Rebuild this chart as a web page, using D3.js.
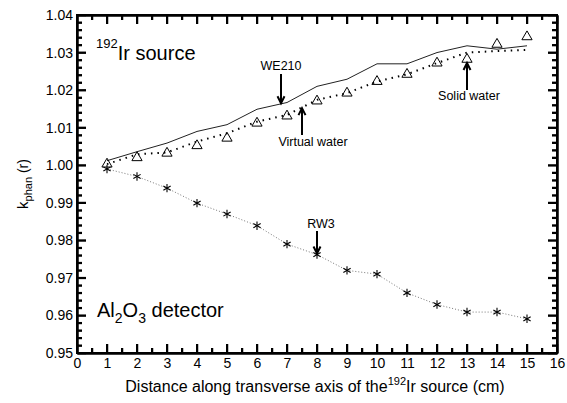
<!DOCTYPE html>
<html><head><meta charset="utf-8">
<script src="https://cdn.jsdelivr.net/npm/d3@7"></script>
</head><body style="margin:0;background:#fff"><svg id="c" width="567" height="403" style="font-family:'Liberation Sans',Arial,sans-serif"></svg>
<script>
const distances = [1,2,3,4,5,6,7,8,9,10,11,12,13,14,15];
const we210 = [1.0012,1.0036,1.0059,1.0090,1.0108,1.0149,1.0167,1.0210,1.0229,1.0270,1.0270,1.0300,1.0318,1.0309,1.0318];
const virtualWater = [1.0003,1.0029,1.0034,1.0063,1.0085,1.0116,1.0134,1.0174,1.0192,1.0223,1.0242,1.0272,1.0300,1.0304,1.0307];
const solidWater = [1.0003,1.0020,1.0032,1.0052,1.0072,1.0112,1.0131,1.0171,1.0192,1.0223,1.0242,1.0272,1.0282,1.0322,1.0342];
const rw3 = [0.9990,0.9970,0.9939,0.9899,0.9870,0.9839,0.9790,0.9762,0.9720,0.9710,0.9660,0.9629,0.9609,0.9609,0.9591];
const xTicks = d3.range(0,17,1);
const yTicks = [0.95,0.96,0.97,0.98,0.99,1.00,1.01,1.02,1.03,1.04];
const xMinor = d3.range(0.5,16,1);
const yMinor = d3.range(0,46,1).filter(k=>k%5!==0).map(k=>0.95+k*0.002);

const svg = d3.select("#c");
const L=77,R=557,T=15,B=353;
const x = d3.scaleLinear().domain([0,16]).range([L,R]);
const y = d3.scaleLinear().domain([0.95,1.04]).range([B,T]);

// frame
svg.append("rect").attr("x",L).attr("y",T).attr("width",R-L).attr("height",B-T).attr("fill","none").attr("stroke","#000").attr("stroke-width",2);

// inward ticks
const tickData = [];
xTicks.forEach(v=>{ tickData.push({x:x(v)-1,y:B-9,w:2,h:9},{x:x(v)-1,y:T,w:2,h:9}); });
xMinor.forEach(v=>{ tickData.push({x:x(v)-1,y:B-5,w:2,h:5},{x:x(v)-1,y:T,w:2,h:5}); });
yTicks.forEach(v=>{ tickData.push({x:L,y:y(v)-1,w:9,h:2},{x:R-9,y:y(v)-1,w:9,h:2}); });
yMinor.forEach(v=>{ tickData.push({x:L,y:y(v)-1,w:5,h:2},{x:R-5,y:y(v)-1,w:5,h:2}); });
svg.append("g").selectAll("rect").data(tickData).join("rect")
  .attr("x",d=>d.x).attr("y",d=>d.y).attr("width",d=>d.w).attr("height",d=>d.h).attr("fill","#000");

// axes with inward tick lines and labels
function styleAxis(g){
  g.select(".domain").attr("stroke","#000").attr("stroke-width",2);
  g.selectAll(".tick line").attr("stroke","#000").attr("stroke-width",1.5);
  g.selectAll("text").attr("font-size",14).attr("font-family","Liberation Sans, Arial").attr("fill","#000");
}
const none = ()=>"";
svg.append("g").attr("transform",`translate(0,${B})`)
  .call(d3.axisBottom(x).tickValues(xTicks).tickSizeInner(-9).tickSizeOuter(0).tickPadding(5).tickFormat(d3.format("d"))).call(styleAxis);
svg.append("g").attr("transform",`translate(0,${B})`)
  .call(d3.axisBottom(x).tickValues(xMinor).tickSizeInner(-5).tickSizeOuter(0).tickFormat(none)).call(styleAxis);
svg.append("g").attr("transform",`translate(0,${T})`)
  .call(d3.axisTop(x).tickValues(xTicks).tickSizeInner(-9).tickSizeOuter(0).tickFormat(none)).call(styleAxis);
svg.append("g").attr("transform",`translate(0,${T})`)
  .call(d3.axisTop(x).tickValues(xMinor).tickSizeInner(-5).tickSizeOuter(0).tickFormat(none)).call(styleAxis);
svg.append("g").attr("transform",`translate(${L},0)`)
  .call(d3.axisLeft(y).tickValues(yTicks).tickSizeInner(-9).tickSizeOuter(0).tickPadding(4).tickFormat(d3.format(".2f"))).call(styleAxis);
svg.append("g").attr("transform",`translate(${L},0)`)
  .call(d3.axisLeft(y).tickValues(yMinor).tickSizeInner(-5).tickSizeOuter(0).tickFormat(none)).call(styleAxis);
svg.append("g").attr("transform",`translate(${R},0)`)
  .call(d3.axisRight(y).tickValues(yTicks).tickSizeInner(-9).tickSizeOuter(0).tickFormat(none)).call(styleAxis);
svg.append("g").attr("transform",`translate(${R},0)`)
  .call(d3.axisRight(y).tickValues(yMinor).tickSizeInner(-5).tickSizeOuter(0).tickFormat(none)).call(styleAxis);

// series
const line = d3.line().x((d,i)=>x(distances[i])).y(d=>y(d));
svg.append("path").attr("d",line(we210)).attr("fill","none").attr("stroke","#222").attr("stroke-width",1);
svg.append("path").attr("d",line(virtualWater)).attr("fill","none").attr("stroke","#000").attr("stroke-width",2).attr("stroke-dasharray","1.5,5");
svg.append("path").attr("d",line(rw3)).attr("fill","none").attr("stroke","#777").attr("stroke-width",1).attr("stroke-dasharray","1,2");

// triangles
const tri = d3.symbol().type(d3.symbolTriangle).size(45);
svg.append("g").selectAll("path").data(solidWater).join("path")
  .attr("d",tri).attr("transform",(d,i)=>`translate(${x(distances[i])},${y(d)})`)
  .attr("fill","none").attr("stroke","#000").attr("stroke-width",1);
// asterisks
const gs = svg.append("g").selectAll("g").data(rw3).join("g")
  .attr("transform",(d,i)=>`translate(${x(distances[i])},${y(d)})`);
[90,30,-30].forEach(a=>{
  const r=4.2, c=Math.cos(a*Math.PI/180)*r, s=Math.sin(a*Math.PI/180)*r;
  gs.append("line").attr("x1",-c).attr("y1",-s).attr("x2",c).attr("y2",s).attr("stroke","#000").attr("stroke-width",1.1);
});

// axis titles
const xt = svg.append("text").attr("x",(L+R)/2-2).attr("y",392).attr("text-anchor","middle").attr("font-size",16);
xt.append("tspan").text("Distance along transverse axis of the");
xt.append("tspan").attr("dy",-7).attr("font-size",11).text("192");
xt.append("tspan").attr("dy",7).text("Ir source (cm)");
const yt = svg.append("text").attr("transform","translate(28,184) rotate(-90)").attr("text-anchor","middle").attr("font-size",15);
yt.append("tspan").text("k");
yt.append("tspan").attr("dy",4).attr("font-size",11).text("phan");
yt.append("tspan").attr("dy",-4).attr("font-size",14).text(" (r)");

// annotations
const t1 = svg.append("text").attr("x",96).attr("y",60).attr("font-size",20);
t1.append("tspan").attr("font-size",13).attr("dy",-12).text("192");
t1.append("tspan").attr("dy",12).text("Ir source");
const t2 = svg.append("text").attr("x",97).attr("y",317).attr("font-size",20);
t2.append("tspan").text("Al");
t2.append("tspan").attr("font-size",14).attr("dy",6).text("2");
t2.append("tspan").attr("dy",-6).text("O");
t2.append("tspan").attr("font-size",14).attr("dy",6).text("3");
t2.append("tspan").attr("dy",-6).text(" detector");

function label(tx,ty,txt){svg.append("text").attr("x",tx).attr("y",ty).attr("font-size",12.5).attr("text-anchor","middle").text(txt);}
function arrow(ax0,y0,y1){ // tip at y1
  svg.append("line").attr("x1",ax0).attr("x2",ax0).attr("y1",y0).attr("y2",y1).attr("stroke","#000").attr("stroke-width",2);
  const s = y1>y0?-1:1;
  svg.append("path").attr("d",`M${ax0-3.5},${y1+s*7}L${ax0},${y1}L${ax0+3.5},${y1+s*7}`).attr("fill","none").attr("stroke","#000").attr("stroke-width",2);
}
label(281,70,"WE210"); arrow(x(6.8),74,y(1.0165));
label(313,146,"Virtual water"); arrow(x(7.5),135,y(1.0152));
label(469,100,"Solid water"); arrow(x(13),90,y(1.0272));
label(321,228,"RW3"); arrow(x(8),231,y(0.9765));
</script></body></html>
